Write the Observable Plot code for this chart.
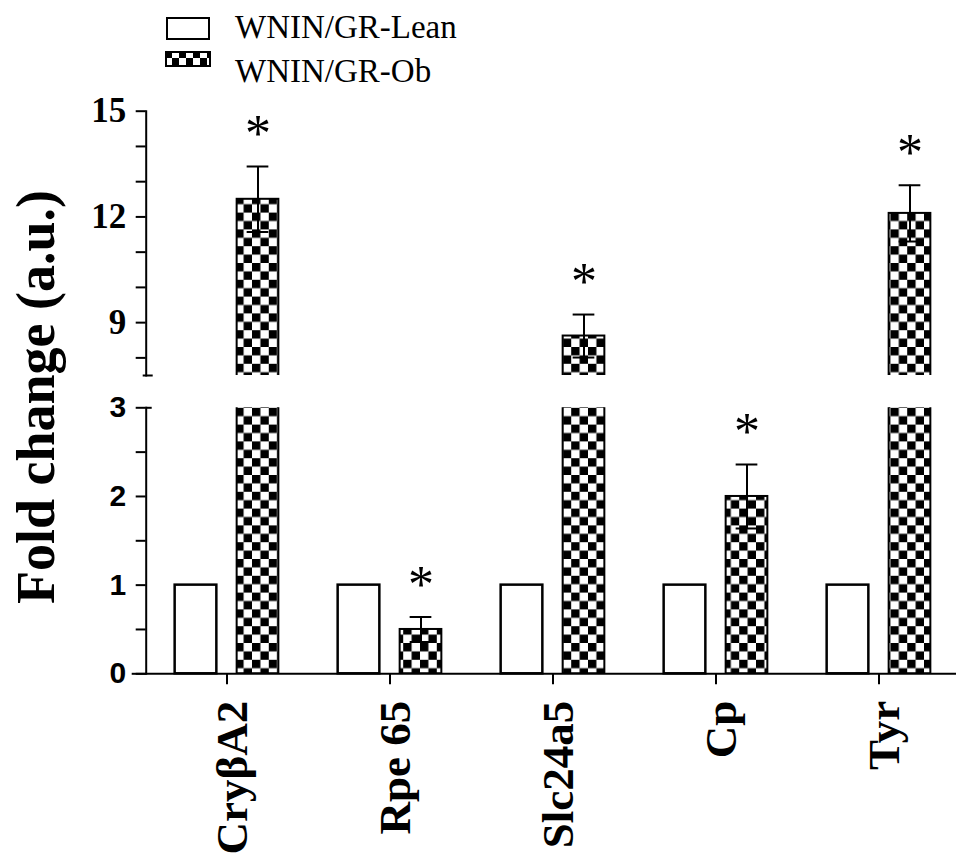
<!DOCTYPE html>
<html>
<head>
<meta charset="utf-8">
<script src="https://cdn.jsdelivr.net/npm/d3@7"></script>
<script src="https://cdn.jsdelivr.net/npm/@observablehq/plot@0.6"></script>
<style>
  html, body { margin: 0; padding: 0; background: white; }
  #wrap { position: relative; width: 956px; height: 855px; overflow: hidden; background: white; }
  #upperChart, #lowerChart { position: absolute; left: 0; z-index: 1; }
  #upperChart { top: 95px; }
  #lowerChart { top: 391px; }
  .leg-text { position: absolute; left: 235px; font-family: "Liberation Serif", serif; font-size: 33px; line-height: 33px; white-space: nowrap; color: #000; z-index: 2; }
  #ytitle { position: absolute; z-index: 3; left: 36px; top: 397px; transform: translate(-50%, -50%) rotate(-90deg); font-family: "Liberation Serif", serif; font-weight: bold; font-size: 54px; line-height: 54px; white-space: nowrap; color: #000; }
</style>
</head>
<body>
<div id="wrap">
  <svg width="0" height="0" style="position:absolute">
    <defs>
      <pattern id="checker" width="16.8" height="16.8" patternUnits="userSpaceOnUse">
        <rect width="16.8" height="16.8" fill="white"/>
        <rect width="8.4" height="8.4" fill="black"/>
        <rect x="8.4" y="8.4" width="8.4" height="8.4" fill="black"/>
      </pattern>
      <pattern id="checkerSmall" width="14" height="14" patternUnits="userSpaceOnUse">
        <rect width="14" height="14" fill="white"/>
        <rect width="7" height="7" fill="black"/>
        <rect x="7" y="7" width="7" height="7" fill="black"/>
      </pattern>
    </defs>
  </svg>
  <div style="position:absolute;left:166px;top:17px;width:44px;height:23px;border:2px solid black;box-sizing:border-box;background:white"></div>
  <svg style="position:absolute;left:165px;top:51px" width="46" height="16"><rect x="1" y="1" width="44" height="14" fill="url(#checkerSmall)" stroke="black" stroke-width="2"/></svg>
  <div class="leg-text" id="legLean" style="top:11px"></div>
  <div class="leg-text" id="legOb" style="top:55px"></div>
  <div id="upperChart"></div>
  <div id="lowerChart"></div>
  <div id="ytitle"></div>
</div>
<script>
// ---- data ----
const genes = ["CryβA2", "Rpe 65", "Slc24a5", "Cp", "Tyr"];
const lean = [1, 1, 1, 1, 1];
const ob = [12.5, 0.5, 8.62, 2.0, 12.1];
const obErr = [0.93, 0.14, 0.61, 0.36, 0.8];
const sig = ["*", "*", "*", "*", "*"];
const seriesNames = ["WNIN/GR-Lean", "WNIN/GR-Ob"];
const yTitle = "Fold change (a.u.)";
const upperDomain = [7.5, 15];
const lowerDomain = [0, 3];
const upperTicks = [15, 12, 9];
const upperMinor = [14, 13, 11, 10, 8];
const lowerTicks = [3, 2, 1, 0];
const lowerMinor = [2.5, 1.5, 0.5];

const rows = genes.map((g, i) => ({gene: g, lean: lean[i], ob: ob[i], err: obErr[i], sig: sig[i]}));

document.getElementById("legLean").textContent = seriesNames[0];
document.getElementById("legOb").textContent = seriesNames[1];
document.getElementById("ytitle").textContent = yTitle;

const W = 956, ML = 145.7;
const frameW = W - ML;
const xScale = {type: "band", domain: genes, range: [144.5, 961], padding: 0};
const half = (961 - 144.5) / genes.length / 2;
const obInset = {insetLeft: half + 10, insetRight: half - 52};
const leanInset = {insetLeft: half - 52, insetRight: half + 10};
const capInset = {insetLeft: half + 31 - 11, insetRight: half - 31 - 11};
const chartStyle = {fontFamily: "Liberation Serif", background: "transparent", overflow: "visible", color: "black"};
const intFmt = d => String(d);

const upperPlot = Plot.plot({
  width: W, height: 296,
  marginTop: 15.7, marginBottom: 16, marginLeft: ML, marginRight: 0,
  style: chartStyle,
  x: {...xScale, axis: null},
  y: {domain: upperDomain, axis: null},
  marks: [
    Plot.barY(rows, {x: "gene", y1: 0, y2: "ob", fill: "url(#checker)", stroke: "black", strokeWidth: 2, ...obInset, clip: true}),
    Plot.ruleX(rows, {x: "gene", y1: d => d.ob - d.err, y2: d => d.ob + d.err, dx: 31, strokeWidth: 2, clip: true}),
    Plot.tickY(rows, {x: "gene", y: d => d.ob + d.err, strokeWidth: 2, ...capInset, clip: true}),
    Plot.tickY(rows, {x: "gene", y: d => d.ob - d.err, strokeWidth: 2, ...capInset, clip: true}),
    Plot.text(rows, {filter: d => d.ob > upperDomain[0], x: "gene", y: d => d.ob + d.err, text: "sig", dx: 31, dy: -32, fontSize: 52, fontFamily: "Liberation Serif"}),
    Plot.frame({anchor: "left", strokeWidth: 2}),
    Plot.axisY({ticks: upperTicks, tickSize: 10, tickPadding: 10, strokeWidth: 2, fontSize: 35, fontWeight: "bold", fontFamily: "Liberation Serif", tickFormat: intFmt, label: null}),
    Plot.axisY({ticks: upperMinor, tickSize: 10, strokeWidth: 2, tickFormat: () => "", label: null}),
    Plot.ruleY([upperDomain[0]], {strokeWidth: 2, insetLeft: -3, insetRight: frameW - 7})
  ]
});
document.getElementById("upperChart").appendChild(upperPlot);

const lowerPlot = Plot.plot({
  width: W, height: 464,
  marginTop: 16.3, marginBottom: 181.7, marginLeft: ML, marginRight: 0,
  style: chartStyle,
  x: {...xScale},
  y: {domain: lowerDomain, axis: null},
  marks: [
    Plot.barY(rows, {x: "gene", y1: 0, y2: "lean", fill: "white", stroke: "black", strokeWidth: 2.5, ...leanInset}),
    Plot.barY(rows, {x: "gene", y1: 0, y2: "ob", fill: "url(#checker)", stroke: "black", strokeWidth: 2, ...obInset, clip: true}),
    Plot.ruleX(rows, {x: "gene", y1: d => d.ob - d.err, y2: d => d.ob + d.err, dx: 31, strokeWidth: 2, clip: true}),
    Plot.tickY(rows, {x: "gene", y: d => d.ob + d.err, strokeWidth: 2, ...capInset, clip: true}),
    Plot.tickY(rows, {x: "gene", y: d => d.ob - d.err, strokeWidth: 2, ...capInset, clip: true}),
    Plot.text(rows, {filter: d => d.ob + d.err < lowerDomain[1], x: "gene", y: d => d.ob + d.err, text: "sig", dx: 31, dy: -32, fontSize: 52, fontFamily: "Liberation Serif"}),
    Plot.frame({anchor: "left", strokeWidth: 2}),
    Plot.frame({anchor: "bottom", strokeWidth: 2}),
    Plot.axisY({ticks: lowerTicks, tickSize: 10, tickPadding: 10, strokeWidth: 2, fontSize: 30, fontWeight: "bold", fontFamily: "Liberation Sans", tickFormat: intFmt, label: null}),
    Plot.axisY({ticks: lowerMinor, tickSize: 10, strokeWidth: 2, tickFormat: () => "", label: null}),
    Plot.axisY({ticks: [0], tickSize: 14, strokeWidth: 2, tickFormat: () => "", label: null}),
    Plot.ruleY([lowerDomain[1]], {strokeWidth: 2, insetLeft: 0, insetRight: frameW - 6}),
    Plot.axisX({tickSize: 11, strokeWidth: 2, tickFormat: () => "", label: null}),
    Plot.text(genes, {x: d => d, frameAnchor: "bottom", rotate: -90, textAnchor: "end", lineAnchor: "middle", dy: 27, dx: 6, fontSize: 45, fontWeight: "bold", fontFamily: "Liberation Serif"})
  ]
});
document.getElementById("lowerChart").appendChild(lowerPlot);
</script>
</body>
</html>
